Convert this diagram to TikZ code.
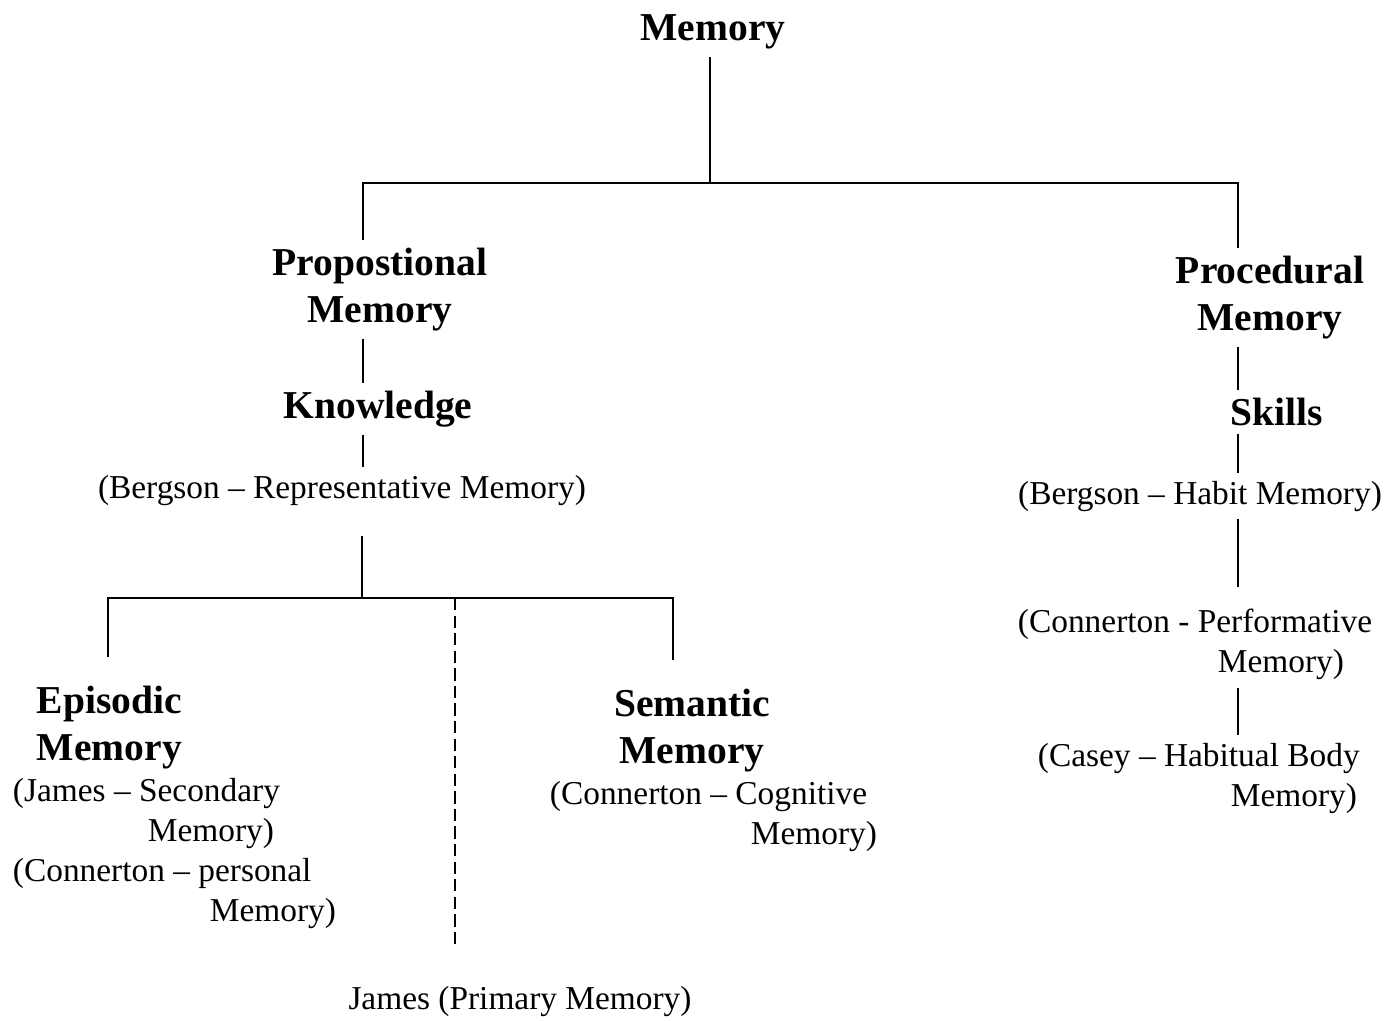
\documentclass[tikz,border=0pt]{standalone}
\usepackage{fontspec}
\setmainfont{Liberation Serif}

\begin{document}
\begin{tikzpicture}[x=0.02cm, y=-0.02cm, line width=1.1pt,
    head/.style={font=\fontsize{22.5}{27}\selectfont\bfseries, align=center, inner xsep=0pt, inner ysep=4pt},
    note/.style={font=\fontsize{19}{22.8}\selectfont, align=left, inner xsep=0pt, inner ysep=4pt}]
  \useasboundingbox (0,0) rectangle (1398,1020);
  \node[head, anchor=north] (mem) at (713,7) {Memory};
  \node[head, anchor=north] (prop) at (380,240) {Propostional\\Memory};
  \node[head, anchor=north] (know) at (378,383) {Knowledge};
  \node[note, anchor=north] (berg) at (342,467) {(Bergson -- Representative Memory)};
  \node[head, anchor=north west, align=left] (epi) at (36,678) {Episodic\\Memory};
  \node[note, anchor=north west] (epinote) at (12,770)
    {(James -- Secondary\\\hspace*{2.7cm}Memory)\\(Connerton -- personal\\\hspace*{3.94cm}Memory)};
  \node[head, anchor=north] (sem) at (692,681) {Semantic\\Memory};
  \node[note, anchor=north west] (semnote) at (549,773)
    {(Connerton -- Cognitive\\\hspace*{4.02cm}Memory)};
  \node[note, anchor=north] (prim) at (520,978) {James (Primary Memory)};
  \node[head, anchor=north] (proc) at (1270,248) {Procedural\\Memory};
  \node[head, anchor=north] (skill) at (1277,390) {Skills};
  \node[note, anchor=north] (habit) at (1200,473) {(Bergson -- Habit Memory)};
  \node[note, anchor=north west] (perf) at (1017,601)
    {(Connerton - Performative\\\hspace*{4cm}Memory)};
  \node[note, anchor=north west] (casey) at (1037,735)
    {(Casey -- Habitual Body\\\hspace*{3.86cm}Memory)};

  \coordinate (top) at (710,183);
  \coordinate (lsp) at (363,183);
  \coordinate (rsp) at (1238,183);
  \coordinate (fork) at (362,598);
  \coordinate (lf) at (108,598);
  \coordinate (rf) at (673,598);
  \coordinate (dsh) at (455,598);

  \draw (mem.south -| top) -- (top);
  \draw (prop.north -| lsp) -- (lsp) -- (rsp) -- (proc.north -| rsp);
  \draw (prop.south -| lsp) -- (know.north -| lsp);
  \draw (know.south -| lsp) -- (berg.north -| lsp);
  \draw[shorten <=0.46cm] (berg.south -| fork) -- (fork);
  \draw[shorten <=0.42cm, shorten >=0.42cm] (epi.north -| lf) -- (lf) -- (rf) -- (sem.north -| rf);
  \draw[dash pattern=on 7pt off 3pt, line width=0.9pt, shorten >=0.66cm] (dsh) -- (prim.north -| dsh);
  \draw (proc.south -| rsp) -- (skill.north -| rsp);
  \draw (skill.south -| rsp) -- (habit.north -| rsp);
  \draw[shorten >=0.28cm] (habit.south -| rsp) -- (perf.north -| rsp);
  \draw (perf.south -| rsp) -- (casey.north -| rsp);
\end{tikzpicture}
\end{document}
